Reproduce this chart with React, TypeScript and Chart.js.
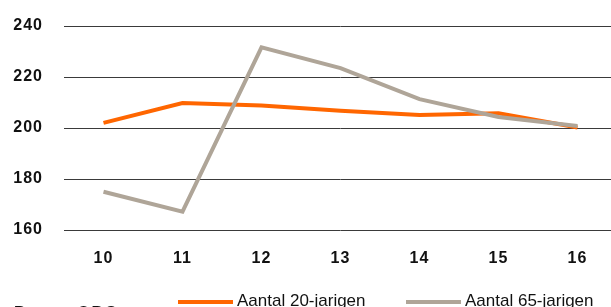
import React, { useEffect, useRef } from "react";
import { Chart, registerables } from "chart.js";

Chart.register(...registerables);

const categories = ["10", "11", "12", "13", "14", "15", "16"];
const series20 = [202, 209.8, 208.8, 206.8, 205.1, 205.8, 200.2];
const series65 = [175, 167.2, 231.6, 223.5, 211.3, 204.3, 200.8];
const label20 = "Aantal 20-jarigen";
const label65 = "Aantal 65-jarigen";
const sourceText = "Bron: CBS";
const yTicks = [160, 180, 200, 220, 240];

const ORANGE = "#FF6600";
const GRAY = "#AFA598";

export default function App() {
  const ref = useRef<HTMLCanvasElement | null>(null);
  useEffect(() => {
    document.documentElement.style.overflow = "hidden";
    document.body.style.overflow = "hidden";
    const canvas = ref.current!;
    const legendPlugin = {
      id: "customLegend",
      beforeDraw(chart: any) {
        (chart.ctx as any).letterSpacing = "1px";
      },
      afterDraw(chart: any) {
        const ctx = chart.ctx as CanvasRenderingContext2D;
        ctx.save();
        (ctx as any).letterSpacing = "0px";
        const items = [
          { ds: chart.data.datasets[1], x: 178 },
          { ds: chart.data.datasets[0], x: 406 },
        ];
        items.forEach((it) => {
          ctx.strokeStyle = it.ds.borderColor;
          ctx.lineWidth = 4;
          ctx.beginPath();
          ctx.moveTo(it.x, 302);
          ctx.lineTo(it.x + 55, 302);
          ctx.stroke();
          ctx.fillStyle = "#111";
          ctx.font = "17px 'Liberation Sans', Arial, sans-serif";
          ctx.textBaseline = "alphabetic";
          ctx.textAlign = "left";
          ctx.fillText(it.ds.label, it.x + 59, 306);
        });
        (ctx as any).letterSpacing = "2.7px";
        ctx.font = "bold 16px 'Liberation Sans', Arial, sans-serif";
        ctx.fillStyle = "#111";
        ctx.fillText(sourceText, 14, 318);
        ctx.restore();
      },
    };
    const chart = new Chart(canvas, {
      type: "line",
      data: {
        labels: categories,
        datasets: [
          { label: label65, data: series65, borderColor: GRAY, backgroundColor: GRAY, borderWidth: 4, pointRadius: 0, tension: 0, order: 0 },
          { label: label20, data: series20, borderColor: ORANGE, backgroundColor: ORANGE, borderWidth: 4, pointRadius: 0, tension: 0, order: 1 },
        ],
      },
      options: {
        responsive: false,
        animation: false,
        devicePixelRatio: 1,
        layout: { padding: { top: 26, right: 1, left: 0, bottom: 0 } },
        plugins: { legend: { display: false }, tooltip: { enabled: false } },
        scales: {
          x: {
            offset: true,
            grid: { display: false, drawTicks: false },
            border: { display: false },
            ticks: {
              color: "#111",
              padding: 19,
              font: { family: "'Liberation Sans', Arial, sans-serif", size: 16, weight: "bold" },
            },
            afterFit(scale: any) { scale.height = 77; },
          },
          y: {
            min: 160,
            max: 240,
            grid: { color: "#3a3a3a", lineWidth: 1, drawTicks: true, tickLength: 21, tickColor: "rgba(0,0,0,0)" },
            border: { display: false },
            afterBuildTicks(scale: any) { scale.ticks = yTicks.map((v) => ({ value: v })); },
            ticks: {
              color: "#111",
              padding: 0,
              font: { family: "'Liberation Sans', Arial, sans-serif", size: 16, weight: "bold" },
            },
            afterFit(scale: any) { scale.width = 64; },
          },
        },
      },
      plugins: [legendPlugin],
    });
    return () => chart.destroy();
  }, []);
  return (
    <div style={{ position: "absolute", left: 0, top: 0, width: 618, height: 307, overflow: "hidden" }}>
      <canvas ref={ref} width={618} height={307} style={{ display: "block" }} />
    </div>
  );
}
